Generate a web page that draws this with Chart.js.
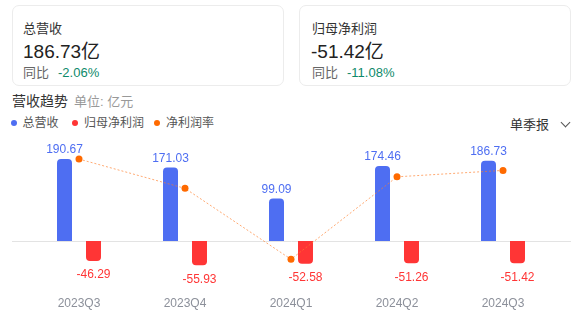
<!DOCTYPE html>
<html>
<head>
<meta charset="utf-8">
<script src="https://cdn.jsdelivr.net/npm/chart.js@4/dist/chart.umd.min.js"></script>
<style>
  html, body { margin: 0; padding: 0; background: #fff; }
  body { width: 585px; height: 323px; position: relative; overflow: hidden;
         font-family: "Liberation Sans", Arial, "Noto Sans CJK SC", sans-serif; }
  .card { position: absolute; top: 5px; height: 81px; border: 1px solid #ececec; border-radius: 7px; box-sizing: border-box; }
  .abs { position: absolute; white-space: nowrap; }
  .lbl { font-size: 13px; line-height: 16px; color: #333; }
  .big { font-size: 19px; line-height: 22px; color: #222; }
  .yoy { font-size: 13px; line-height: 16px; color: #666; }
  .yoy span { color: #0e8a6a; margin-left: 9px; }
  #title { left: 12px; top: 92px; font-size: 14px; line-height: 18px; color: #333; }
  #title span { font-size: 13px; color: #999; margin-left: 6px; }
  .leg { position: absolute; top: 116px; font-size: 12px; line-height: 15px; color: #555; white-space: nowrap; }
  .dot { position: absolute; top: 120px; width: 6px; height: 6px; border-radius: 50%; }
  #period { left: 510px; top: 117px; font-size: 13px; line-height: 16px; color: #333; }
  #chev { left: 562px; top: 119px; width: 6px; height: 6px; border-right: 1.3px solid #555; border-bottom: 1.3px solid #555; transform: rotate(45deg); }
  #wrap { position: absolute; left: 0; top: 133px; width: 585px; height: 190px; }
</style>
</head>
<body>
<div class="card" style="left:12px; width:272px;">
  <div class="abs lbl" style="left:10px; top:15px;">总营收</div>
  <div class="abs big" style="left:10px; top:35px;">186.73亿</div>
  <div class="abs yoy" style="left:10px; top:59px;">同比<span>-2.06%</span></div>
</div>
<div class="card" style="left:299px; width:272px;">
  <div class="abs lbl" style="left:12px; top:15px;">归母净利润</div>
  <div class="abs big" style="left:11px; top:35px;">-51.42亿</div>
  <div class="abs yoy" style="left:12px; top:59px;">同比<span>-11.08%</span></div>
</div>
<div id="title" class="abs">营收趋势<span>单位: 亿元</span></div>
<div id="period" class="abs">单季报</div>
<div id="chev" class="abs"></div>
<div id="wrap"><canvas id="c"></canvas></div>
<script>
// Quarterly figures, 亿元
const quarters = ['2023Q3', '2023Q4', '2024Q1', '2024Q2', '2024Q3'];
const revenue = [190.67, 171.03, 99.09, 174.46, 186.73];
const netProfit = [-46.29, -55.93, -52.58, -51.26, -51.42];
const netMargin = [-24.28, -32.70, -53.06, -29.38, -27.54]; // %
const seriesNames = ['总营收', '归母净利润', '净利润率'];
const colors = ['#4e6ef2', '#ff3535', '#ff6a00'];

// legend row
const legendX = [10.5, 72, 154];
seriesNames.forEach((n, i) => {
  const d = document.createElement('div');
  d.className = 'dot';
  d.style.left = legendX[i] + 'px';
  d.style.background = colors[i];
  document.body.appendChild(d);
  const t = document.createElement('div');
  t.className = 'leg';
  t.style.left = (legendX[i] + 12) + 'px';
  t.textContent = n;
  document.body.appendChild(t);
});

const FONT = '"Liberation Sans", Arial, "Noto Sans CJK SC", sans-serif';

// baseline at zero, wider than the plot area
const zeroLine = {
  id: 'zeroLine',
  beforeDatasetsDraw(chart) {
    const y = Math.round(chart.scales.y.getPixelForValue(0)) + 0.5;
    const ctx = chart.ctx;
    ctx.save();
    ctx.strokeStyle = '#e3e3e3';
    ctx.lineWidth = 1;
    ctx.beginPath();
    ctx.moveTo(12, y);
    ctx.lineTo(chart.width - 14, y);
    ctx.stroke();
    ctx.restore();
  }
};

// value labels above positive bars / below negative bars
const barLabels = {
  id: 'barLabels',
  afterDatasetsDraw(chart) {
    const ctx = chart.ctx;
    ctx.save();
    ctx.font = '12px ' + FONT;
    ctx.textAlign = 'center';
    ctx.textBaseline = 'middle';
    chart.data.datasets.forEach((ds, di) => {
      if (ds.type === 'line') return;
      const meta = chart.getDatasetMeta(di);
      meta.data.forEach((el, i) => {
        const v = ds.data[i];
        ctx.fillStyle = ds.labelColor;
        const y = v >= 0 ? el.y - 9 : el.y + 14;
        ctx.fillText(v.toFixed(2), el.x, y);
      });
    });
    ctx.restore();
  }
};

new Chart(document.getElementById('c'), {
  data: {
    labels: quarters,
    datasets: [
      {
        type: 'line', label: seriesNames[2], data: netMargin, yAxisID: 'y2', order: 0,
        borderColor: 'rgba(255,125,40,0.65)', borderWidth: 1, borderDash: [2, 2],
        pointRadius: 3.5, pointBackgroundColor: colors[2], pointBorderWidth: 0,
        pointHoverRadius: 3.5, tension: 0
      },
      {
        type: 'bar', label: seriesNames[0], data: revenue, yAxisID: 'y', order: 1,
        backgroundColor: colors[0], labelColor: '#4e6ef2', borderRadius: 4,
        categoryPercentage: 0.547, barPercentage: 0.517
      },
      {
        type: 'bar', label: seriesNames[1], data: netProfit, yAxisID: 'y', order: 1,
        backgroundColor: colors[1], labelColor: '#ff3535', borderRadius: 4,
        categoryPercentage: 0.547, barPercentage: 0.517
      }
    ]
  },
  options: {
    responsive: true,
    maintainAspectRatio: false,
    animation: false,
    events: [],
    layout: { padding: { left: 26, right: 29, top: 9, bottom: 1 } },
    plugins: { legend: { display: false }, tooltip: { enabled: false } },
    scales: {
      x: {
        grid: { display: false, drawTicks: false },
        border: { display: false },
        ticks: { color: '#8c909a', font: { size: 12, family: FONT }, padding: 11 }
      },
      y: { display: false, min: -103.2, max: 230 },
      y2: { display: false, min: -60.63, max: -19.38 }
    }
  },
  plugins: [zeroLine, barLabels]
});
</script>
</body>
</html>
